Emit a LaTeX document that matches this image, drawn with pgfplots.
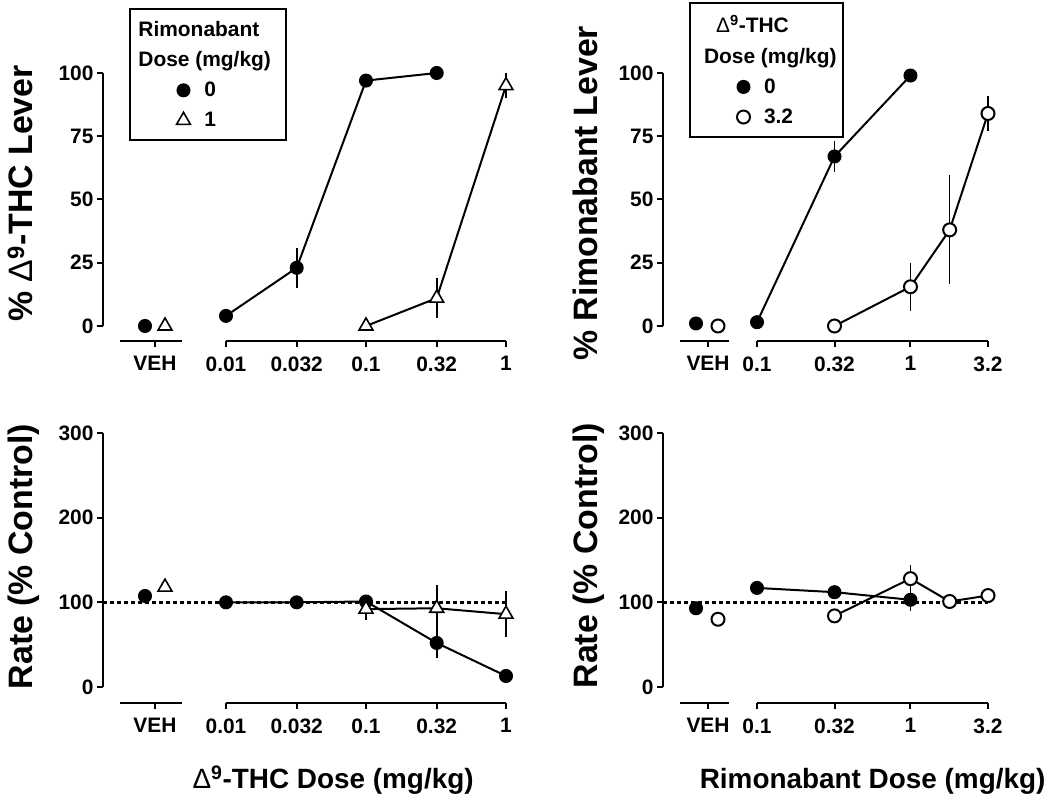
\documentclass[border=0pt]{standalone}
\usepackage{fontspec}
\setmainfont{Liberation Sans}
\usepackage{pgfplots}
\pgfplotsset{compat=1.18}
% x positions are log10(dose in mg/kg)
\pgfplotsset{
 myNoArrow/.style={axis line style={-, line width=2bp, black},
   every outer x axis line/.append style={-}, every outer y axis line/.append style={-},
   every inner x axis line/.append style={-}, every inner y axis line/.append style={-}},
 myBase/.style={scale only axis, anchor=south west, clip=false,
   tick style={line width=2bp, black},
   major tick length=6bp, tick align=outside,
   /pgf/number format/assume math mode=true,
   tick label style={font=\fontsize{21}{21}\selectfont\bfseries},
   xticklabel style={yshift=-6bp},
   label style={font=\fontsize{34}{34}\selectfont\bfseries}},
 myDat/.style={myBase, axis x line=none, axis y line=left, myNoArrow, tick align=outside},
 myLeg/.style={legend style={draw=black, line width=2bp, font=\fontsize{21}{26}\selectfont\bfseries,
     cells={anchor=west}, anchor=north west, inner xsep=45bp, inner ysep=7bp, row sep=4bp,
     column sep=9bp, nodes={inner sep=5bp}}},
 mySeg/.style={myBase, height=1bp, ymin=0, ymax=1, axis x line=bottom, axis y line=none, ytick=\empty,
   myNoArrow, tick align=outside},
 myEB/.style={error bars/y dir=both, error bars/y explicit, error bars/error mark=none,
   error bars/error bar style={line width=1.6bp, solid}},
 myFC/.style={black, line width=2bp, mark=*, mark size=6.5bp, mark options={fill=black, solid, line width=1bp}},
 myTri/.style={black, line width=2bp, mark=triangle*, mark size=8bp, mark options={fill=white, solid, line width=1.6bp}},
 myOC/.style={black, line width=2bp, mark=*, mark size=6.5bp, mark options={fill=white, solid, line width=2bp}},
 myRef/.style={black, line width=2.5bp, dash pattern=on 4bp off 3bp},
}
\begin{document}
\begin{tikzpicture}
\useasboundingbox (0,0) rectangle (1050bp,798bp);

% ---------------- top left ----------------
\begin{axis}[myDat, myLeg, at={(103bp,472bp)}, width=403bp, height=253bp,
  xmin=-2.8786, xmax=0, ymin=0, ymax=100, ytick={0,25,50,75,100},
  ylabel={\% {\mdseries Δ}\textsuperscript{9}-THC Lever},
  ylabel style={at={(axis description cs:-0.1737,0.524)}, anchor=base},
  legend style={at={(axis description cs:0.0645,1.257)}}]
\addlegendimage{empty legend}
\addlegendentry{\hspace{-66bp}Rimonabant\hspace{-35bp}\mbox{}}
\addlegendimage{empty legend}
\addlegendentry{\hspace{-66bp}Dose (mg/kg)\hspace{-35bp}\mbox{}}
\addlegendimage{myFC, only marks}
\addlegendentry{0}
\addlegendimage{myTri, only marks}
\addlegendentry{1}
\addplot[myFC, myEB, forget plot] coordinates {(-2,4) (-1.495,23) +- (0,8) (-1,97) (-0.495,100)};
\addplot[myTri, myEB, forget plot] coordinates {(-1,0) (-0.495,11) +- (0,8) (0,95) +- (0,5)};
\addplot[myFC, only marks, forget plot] coordinates {(-2.5786,0)};
\addplot[myTri, only marks, forget plot] coordinates {(-2.4357,0)};
\end{axis}
\begin{axis}[mySeg, at={(120bp,457bp)}, width=62bp, xmin=-2.7571, xmax=-2.3143,
  xtick={-2.5071}, xticklabels={VEH}]
\end{axis}
\begin{axis}[mySeg, at={(226bp,457bp)}, width=280bp, xmin=-2, xmax=0,
  xtick={-2,-1.495,-1,-0.495,0}, xticklabels={0.01,0.032,0.1,0.32,1}]
\end{axis}

% ---------------- top right ----------------
\begin{axis}[myDat, myLeg, at={(663bp,472bp)}, width=325bp, height=253bp,
  xmin=-1.6124, xmax=0.5051, ymin=0, ymax=100, ytick={0,25,50,75,100},
  ylabel={\% Rimonabant Lever},
  ylabel style={at={(axis description cs:-0.203,0.524)}, anchor=base},
  legend style={at={(axis description cs:0.08,1.2806)}}]
\addlegendimage{empty legend}
\addlegendentry{\hspace{-60bp}{\mdseries Δ}\textsuperscript{9}-THC\hspace{-46bp}\mbox{}}
\addlegendimage{empty legend}
\addlegendentry{\hspace{-60bp}Dose (mg/kg)\hspace{-46bp}\mbox{}}
\addlegendimage{myFC, only marks}
\addlegendentry{0}
\addlegendimage{myOC, only marks}
\addlegendentry{3.2}
\addplot[myFC, myEB, forget plot] coordinates {(-1,1.5) (-0.495,67) +- (0,6) (0,99)};
\addplot[myOC, myEB, forget plot] coordinates {(-0.495,0) (0,15.5) +- (0,9.5) (0.2553,38) +- (0,21.5) (0.5051,84) +- (0,7)};
\addplot[myFC, only marks, forget plot] coordinates {(-1.3974,1)};
\addplot[myOC, only marks, forget plot] coordinates {(-1.2541,0)};
\end{axis}
\begin{axis}[mySeg, at={(680bp,457bp)}, width=49bp, xmin=-1.5016, xmax=-1.1824,
  xtick={-1.3192}, xticklabels={VEH}]
\end{axis}
\begin{axis}[mySeg, at={(757bp,457bp)}, width=231bp, xmin=-1, xmax=0.5051,
  xtick={-1,-0.495,0,0.5051}, xticklabels={0.1,0.32,1,3.2}]
\end{axis}

% ---------------- bottom left ----------------
\begin{axis}[myDat, at={(103bp,111bp)}, width=403bp, height=254bp,
  xmin=-2.8786, xmax=0, ymin=0, ymax=300, ytick={0,100,200,300},
  ylabel={Rate (\% Control)},
  ylabel style={at={(axis description cs:-0.1737,0.514)}, anchor=base}]
\addplot[myRef] coordinates {(-2.8786,100) (0,100)};
\addplot[myFC, myEB] coordinates {(-2,100) (-1.495,100) (-1,101) (-0.495,52) +- (0,18) (0,13)};
\addplot[myTri, myEB] coordinates {(-1,92) +- (0,13) (-0.495,93) +- (0,27) (0,86) +- (0,27)};
\addplot[myFC, only marks] coordinates {(-2.5786,107.5)};
\addplot[myTri, only marks] coordinates {(-2.4357,118)};
\node[anchor=base, font=\fontsize{28}{28}\selectfont\bfseries] at (axis description cs:0.571,-0.398)
  {{\mdseries Δ}\textsuperscript{9}-THC Dose (mg/kg)};
\end{axis}
\begin{axis}[mySeg, at={(120bp,95bp)}, width=62bp, xmin=-2.7571, xmax=-2.3143,
  xtick={-2.5071}, xticklabels={VEH}]
\end{axis}
\begin{axis}[mySeg, at={(226bp,95bp)}, width=280bp, xmin=-2, xmax=0,
  xtick={-2,-1.495,-1,-0.495,0}, xticklabels={0.01,0.032,0.1,0.32,1}]
\end{axis}

% ---------------- bottom right ----------------
\begin{axis}[myDat, at={(663bp,111bp)}, width=325bp, height=254bp,
  xmin=-1.6124, xmax=0.5051, ymin=0, ymax=300, ytick={0,100,200,300},
  ylabel={Rate (\% Control)},
  ylabel style={at={(axis description cs:-0.203,0.517)}, anchor=base}]
\addplot[myRef] coordinates {(-1.6124,100) (0.5051,100)};
\addplot[myFC, myEB] coordinates {(-1,117) +- (0,8) (-0.495,112) +- (0,7) (0,103) +- (0,13)};
\addplot[myOC, myEB] coordinates {(-0.495,84) (0,128) +- (0,16) (0.2553,101) (0.5051,108)};
\addplot[myFC, only marks] coordinates {(-1.3974,93)};
\addplot[myOC, only marks] coordinates {(-1.2541,80)};
\node[anchor=base, font=\fontsize{28}{28}\selectfont\bfseries] at (axis description cs:0.645,-0.398)
  {Rimonabant Dose (mg/kg)};
\end{axis}
\begin{axis}[mySeg, at={(680bp,95bp)}, width=49bp, xmin=-1.5016, xmax=-1.1824,
  xtick={-1.3192}, xticklabels={VEH}]
\end{axis}
\begin{axis}[mySeg, at={(757bp,95bp)}, width=231bp, xmin=-1, xmax=0.5051,
  xtick={-1,-0.495,0,0.5051}, xticklabels={0.1,0.32,1,3.2}]
\end{axis}
\end{tikzpicture}
\end{document}
